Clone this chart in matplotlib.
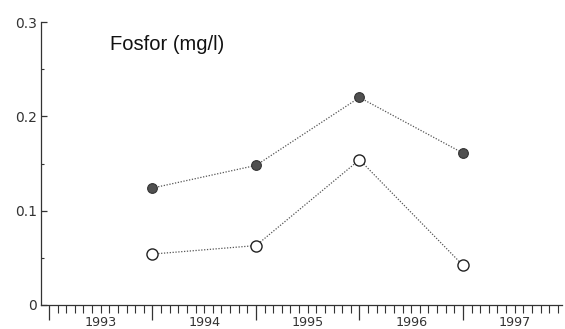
import matplotlib
matplotlib.use("Agg")
import matplotlib.pyplot as plt
import numpy as np

years = [1993, 1994, 1995, 1996]
filled_vals = [0.124, 0.148, 0.220, 0.161]
open_vals = [0.054, 0.063, 0.154, 0.042]
year_labels = ["1993", "1994", "1995", "1996", "1997"]
y_ticks = [0, 0.1, 0.2, 0.3]
y_tick_labels = ["0", "0.1", "0.2", "0.3"]

plt.rcParams['font.family'] = ['Liberation Sans', 'DejaVu Sans']

fig = plt.figure(figsize=(5.65, 3.29), dpi=100)
W, H = 565, 329
ax = fig.add_axes([41 / W, (H - 305) / H, (562 - 41) / W, 283 / H])

xpos = [y + 1.0 for y in years]
ax.plot(xpos, filled_vals, linestyle=(0, (1, 1.3)), color='#555555', lw=0.9,
        marker='o', ms=7, mfc='#505050', mec='#333333', mew=0.8, zorder=3)
ax.plot(xpos, open_vals, linestyle=(0, (1, 1.3)), color='#555555', lw=0.9,
        marker='o', ms=8, mfc='white', mec='#222222', mew=1.0, zorder=3)

ax.set_xlim(1993 - 8 / 103.5, 1993 + 513 / 103.5)
ax.set_ylim(0, 0.3)

for s in ['top', 'right']:
    ax.spines[s].set_visible(False)
for s in ['left', 'bottom']:
    ax.spines[s].set_color('#333333')
    ax.spines[s].set_linewidth(0.9)

# x ticks: major at year boundaries, minor monthly, labels centered
major_x = np.arange(1993, 1998)
ax.set_xticks(major_x)
ax.set_xticklabels([])
ax.set_xticks(np.arange(1993, 1998, 1 / 12), minor=True)
ax.tick_params(axis='x', which='major', direction='out', length=11, width=0.9, color='#333333')
ax.tick_params(axis='x', which='minor', direction='out', length=5.5, width=0.8, color='#333333')
for i, lab in enumerate(year_labels):
    ax.text(1993.5 + i, -0.0182, lab, ha='center', va='center', fontsize=9.2,
            family='DejaVu Sans', color='#333333', clip_on=False)

ax.set_yticks(y_ticks)
ax.set_yticklabels(y_tick_labels, fontsize=10, color='#333333', family='DejaVu Sans')
ax.set_yticks([0.05, 0.15, 0.25], minor=True)
ax.tick_params(axis='y', which='major', direction='in', length=4, width=0.9, color='#333333', pad=3)
ax.tick_params(axis='y', which='minor', direction='in', length=2, width=0.8, color='#333333')

ax.text(1993 + (110 - 49) / 103.5, 0.3 - 23 * 0.3 / 283, "Fosfor (mg/l)", fontsize=14.5,
        color='#111111', ha='left', va='center')

fig.savefig("out.png", dpi=100)
